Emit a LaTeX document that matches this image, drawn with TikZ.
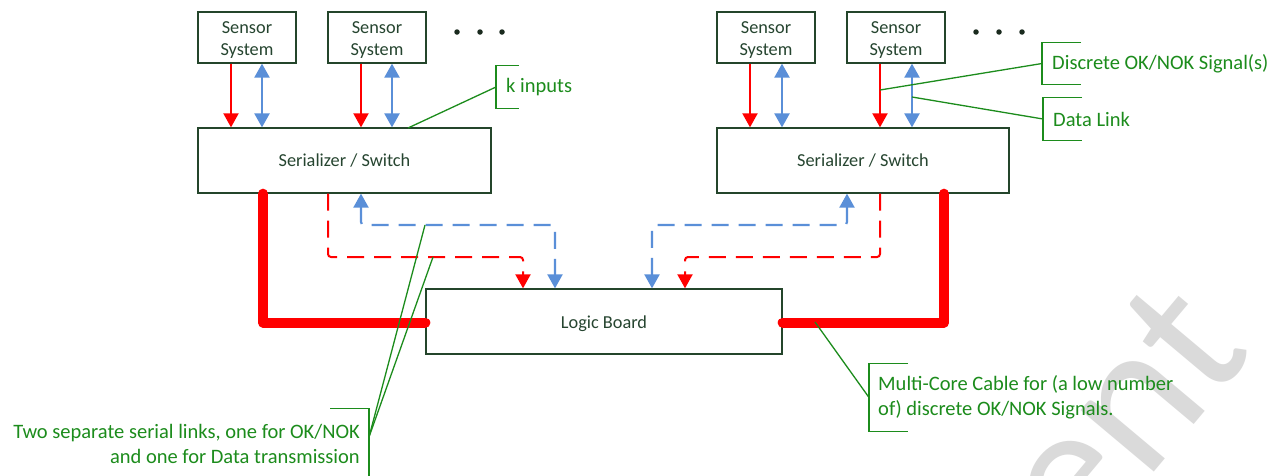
\documentclass[tikz,border=0pt]{standalone}
\usepackage{fontspec}
\setmainfont{Carlito}
\usetikzlibrary{arrows.meta}
\definecolor{boxline}{HTML}{24452B}
\definecolor{boxtext}{HTML}{264530}
\definecolor{sigred}{HTML}{FF0000}
\definecolor{linkblue}{HTML}{5A8FD8}
\definecolor{notegreen}{HTML}{1C8C1C}
\definecolor{wmgray}{HTML}{DADADA}
\definecolor{dotcol}{HTML}{1A2A1E}
% captions set a little low in their boxes (natural size kept for centring)
\newcommand{\lowered}[2]{\raisebox{-#1}[\height][\depth]{#2}}
\newcommand{\sensortext}{\lowered{3pt}{\begin{tabular}{@{}c@{}}Sensor\\System\end{tabular}}}

\begin{document}
\begin{tikzpicture}[x=1pt,y=-1pt,
  box/.style={draw=boxline, line width=1.3pt, text=boxtext, align=center,
    font=\fontsize{18.3}{22}\selectfont, inner sep=0pt},
  sensorbox/.style={box, minimum width=98pt, minimum height=51pt},
  serbox/.style={box, minimum width=293pt, minimum height=65pt},
  okline/.style={draw=sigred, line width=2pt, -{Triangle[length=14pt,width=15pt]}},
  datalink/.style={draw=linkblue, line width=2.4pt,
    {Triangle[length=14pt,width=15pt]}-{Triangle[length=14pt,width=15pt]}},
  serialok/.style={okline, dash pattern=on 17pt off 10pt, rounded corners=3pt},
  serialdata/.style={datalink, line width=2.2pt, dash pattern=on 17pt off 10pt, rounded corners=3pt},
  cable/.style={draw=sigred, line width=10pt, line cap=round, line join=round},
  leader/.style={draw=notegreen, line width=1.3pt},
  note/.style={text=notegreen, font=\fontsize{20.5}{25}\selectfont, inner ysep=0pt},
  dot/.style={circle, fill=dotcol, inner sep=0pt, minimum size=5.5pt}
]
\useasboundingbox (0,0) rectangle (1279,475);
\fill[white] (0,0) rectangle (1279,475);

% watermark letters in the lower right corner
\begin{scope}
  \clip (0,0) rectangle (1279,475);
  \node[text=wmgray, font=\fontsize{200}{200}\selectfont, rotate=50, inner sep=0pt] (wm) at (1120,415) {ent};
\end{scope}

% sensor systems
\node[sensorbox] (s1) at (247,37.5) {\sensortext};
\node[sensorbox] (s2) at (377,37.5) {\sensortext};
\node[sensorbox] (s3) at (766,37.5) {\sensortext};
\node[sensorbox] (s4) at (896,37.5) {\sensortext};

\node[dot] (d1) at (457,32) {};
\node[dot] (d2) at (480,32) {};
\node[dot] (d3) at (502,32) {};
\node[dot] (d4) at (976,32) {};
\node[dot] (d5) at (999,32) {};
\node[dot] (d6) at (1022,32) {};

% serializers and logic board
\node[serbox] (serL) at (344.5,160.5) {Serializer / Switch};
\node[serbox, minimum width=292pt] (serR) at (863,160.5) {Serializer / Switch};
\node[box, minimum width=356pt, minimum height=65pt] (logic) at (604,321.5) {\lowered{2pt}{Logic Board}};

% sensor to serializer links
\draw[okline]   (s1.south -| 231,0) -- (serL.north -| 231,0);
\draw[datalink] (s1.south -| 262,0) -- (serL.north -| 262,0);
\draw[okline]   (s2.south -| 361,0) -- (serL.north -| 361,0);
\draw[datalink] (s2.south -| 392,0) -- (serL.north -| 392,0);
\draw[okline]   (s3.south -| 750,0) -- (serR.north -| 750,0);
\draw[datalink] (s3.south -| 782,0) -- (serR.north -| 782,0);
\draw[okline]   (s4.south -| 880,0) -- (serR.north -| 880,0);
\draw[datalink] (s4.south -| 912,0) -- (serR.north -| 912,0);

% serial links to the logic board
\draw[serialok]   (serL.south -| 328,0) -- (328,257) -- (523,257) -- (logic.north -| 523,0);
\draw[serialdata] (serL.south -| 361,0) -- (361,225) -- (555,225) -- (logic.north -| 555,0);
\draw[serialdata] (serR.south -| 847,0) -- (847,225) -- (652,225) -- (logic.north -| 652,0);
\draw[serialok]   (serR.south -| 880,0) -- (880,257) -- (685,257) -- (logic.north -| 685,0);

% multi-core cables
\draw[cable] (serL.south -| 263,0) -- (263,322.5) -- (logic.west |- 0,322.5);
\draw[cable] (serR.south -| 944,0) -- (944,322.5) -- (logic.east |- 0,322.5);

% annotations
\node[note, anchor=west, minimum height=42pt, inner xsep=10pt] (kl) at (496,87) {k inputs};
\node[note, anchor=west, minimum height=41pt, inner xsep=10pt] (dl) at (1042,63.5) {Discrete OK/NOK Signal(s)};
\node[note, anchor=west, minimum height=42pt, inner xsep=10pt] (da) at (1043,119) {Data Link};
\node[note, anchor=west, minimum height=67pt, inner xsep=9pt, align=left] (mc) at (869,397.5)
  {Multi-Core Cable for (a low number\\of) discrete OK/NOK Signals.};
\node[note, anchor=east, minimum height=69pt, inner xsep=9pt, align=right] (tw) at (369,443.5)
  {Two separate serial links, one for OK/NOK\\and one for Data transmission};

\foreach \n/\w in {kl/23pt, dl/39pt, da/39pt, mc/39pt}
  \draw[leader] ([xshift=\w]\n.north west) -- (\n.north west) -- (\n.south west) -- ([xshift=\w]\n.south west);
\draw[leader] ([xshift=-39pt]tw.north east) -- (tw.north east) -- (tw.south east) -- ([xshift=-39pt]tw.south east);

\coordinate (kin) at (408,128);
\coordinate (okp) at (880,90);
\coordinate (dap) at (912,97);
\coordinate (cbp) at (815,322);
\coordinate (sdp) at (425,225);
\coordinate (sop) at (433,257);
\coordinate (twp) at (369,437);

\draw[leader] (kin) -- (kl.west);
\draw[leader] (okp) -- (dl.west);
\draw[leader] (dap) -- (da.west);
\draw[leader] (cbp) -- (mc.west);
\draw[leader] (sdp) -- (twp);
\draw[leader] (sop) -- (twp);
\end{tikzpicture}
\end{document}
